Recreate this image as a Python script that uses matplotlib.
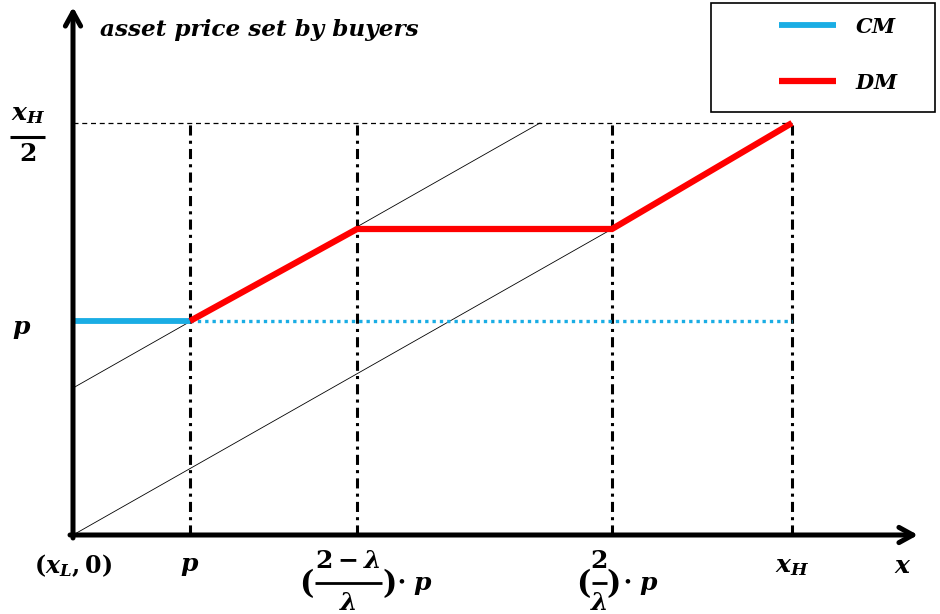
import matplotlib
matplotlib.use("Agg")
import matplotlib.pyplot as plt
from matplotlib.patches import Rectangle

plt.rcParams['mathtext.fontset'] = 'custom'
plt.rcParams['mathtext.it'] = 'DejaVu Serif:italic:bold'
plt.rcParams['mathtext.rm'] = 'DejaVu Serif:bold'
plt.rcParams['mathtext.bf'] = 'DejaVu Serif:bold'
plt.rcParams['mathtext.sf'] = 'DejaVu Serif:bold'

# --- data (schematic units, origin at (x_L, 0)) ---
x_ticks = [0, 117, 719]
x_labels = [r'$(x_L,0)$', r'$p$', r'$x_H$']
frac_ticks = [284, 539]
frac_num = [r'$2-\lambda$', r'$2$']
frac_den = [r'$\lambda$', r'$\lambda$']
p_level = 214
xh_half = 412
cm_x = [0, 117]
cm_y = [214, 214]
cm_dot_x = [117, 719]
cm_dot_y = [214, 214]
dm_x = [117, 284, 539, 719]
dm_y = [214, 306, 306, 412]
thin1_x = [0, 467]
thin1_y = [147, 412]
thin2_x = [0, 539]
thin2_y = [0, 306]
vlines_x = [117, 284, 539, 719]

# label layout (offsets from tick, half-width of fraction bar)
frac_shift = [-9, -13]
frac_halfwidth = [33.5, 7.5]

blue = '#1AADE4'
red = '#FF0000'

fig = plt.figure(figsize=(9.4, 6.14), dpi=100)
ax = fig.add_axes([0, 0, 1, 1])
ax.set_xlim(-73, 867)
ax.set_ylim(-79, 535)
ax.axis('off')

# thin guide lines
ax.plot(thin1_x, thin1_y, color='black', lw=0.6, zorder=2)
ax.plot(thin2_x, thin2_y, color='black', lw=0.6, zorder=2)

# dashed top line
ax.plot([0, 719], [xh_half, xh_half], color='black', lw=0.9,
        linestyle=(0, (4, 3)), zorder=2)

# vertical dash-dot lines
for vx in vlines_x:
    ax.plot([vx, vx], [0, xh_half], color='black', lw=2.2,
            linestyle=(0, (3.3, 1.7, 1.0, 1.7)), zorder=2)

# CM
ax.plot(cm_x, cm_y, color=blue, lw=4.2, solid_capstyle='butt', zorder=4)
ax.plot(cm_dot_x, cm_dot_y, color=blue, lw=2.4, linestyle=(0, (1, 1.2)), zorder=3)
# DM
ax.plot(dm_x, dm_y, color=red, lw=4.5, solid_capstyle='butt',
        solid_joinstyle='miter', zorder=5)

# axes arrows
ax.annotate('', xy=(845, 0), xytext=(-3, 0),
            arrowprops=dict(arrowstyle='->,head_length=1.0,head_width=0.55',
                            lw=3.6, color='black', shrinkA=0, shrinkB=0), zorder=6)
ax.annotate('', xy=(0, 528), xytext=(0, -3),
            arrowprops=dict(arrowstyle='->,head_length=1.0,head_width=0.55',
                            lw=3.6, color='black', shrinkA=0, shrinkB=0), zorder=6)

# tick labels
fs = 18
for xv, lab in zip(x_ticks, x_labels):
    ax.text(xv, -31, lab, ha='center', va='center',
            fontsize=17 if xv == 0 else fs)
ax.text(830, -31, r'$x$', ha='center', va='center', fontsize=fs)

# fraction tick labels, built from pieces
for xv, num, den, sh, hw in zip(frac_ticks, frac_num, frac_den, frac_shift, frac_halfwidth):
    cx = xv + sh
    ax.text(cx, -26, num, ha='center', va='center', fontsize=fs)
    ax.text(cx, -68, den, ha='center', va='center', fontsize=fs)
    ax.plot([cx - hw, cx + hw], [-48, -48], color='black', lw=2.0,
            solid_capstyle='butt')
    ax.text(cx - hw - 1, -48, r'$($', ha='right', va='center', fontsize=22)
    ax.text(cx + hw, -48, r'$)$', ha='left', va='center', fontsize=22)
    ax.text(cx + hw + 15, -50, r'$\cdot\;p$', ha='left', va='center', fontsize=fs)

# y labels
ax.text(-45, 421, r'$x_H$', ha='center', va='center', fontsize=fs)
ax.plot([-63, -28], [398, 398], color='black', lw=2.2, solid_capstyle='butt')
ax.text(-45, 381, r'$2$', ha='center', va='center', fontsize=fs)
ax.text(-51, p_level - 8, r'$p$', ha='center', va='center', fontsize=fs)

ax.text(27, 505, 'asset price set by buyers', ha='left', va='center',
        fontsize=16.7, family='DejaVu Serif', fontweight='bold', fontstyle='italic')

# legend box
ax.add_patch(Rectangle((638, 423), 224, 109, fill=False, edgecolor='black', lw=1.2, zorder=6))
ax.plot([706, 763], [510, 510], color=blue, lw=4.2, solid_capstyle='butt', zorder=7)
ax.plot([706, 763], [454, 454], color=red, lw=4.5, solid_capstyle='butt', zorder=7)
ax.text(782, 508, r'$CM$', ha='left', va='center', fontsize=15)
ax.text(782, 452, r'$DM$', ha='left', va='center', fontsize=15)

fig.savefig('out.png', dpi=100)
